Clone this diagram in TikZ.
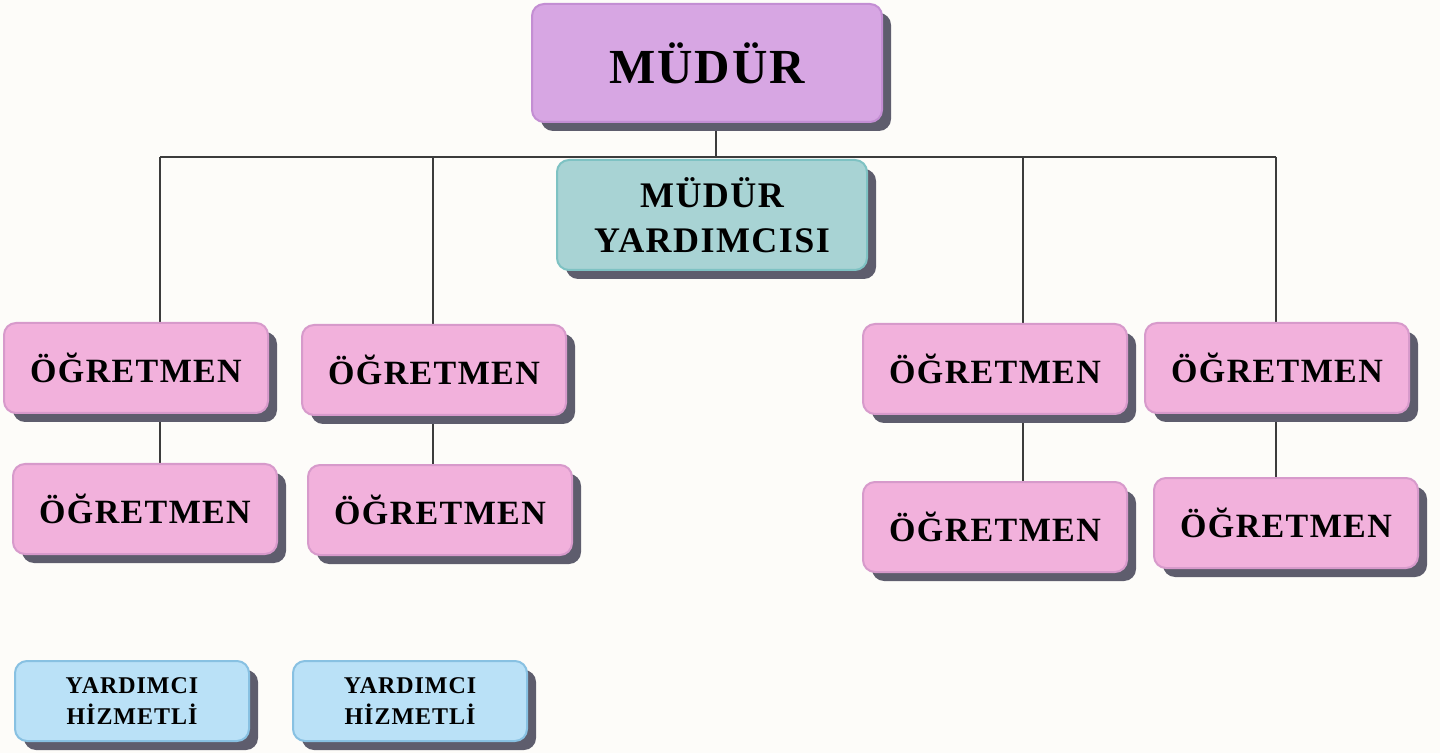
\documentclass[tikz,border=0pt]{standalone}
\usepackage{fontspec}
\setmainfont{Liberation Serif}
\newfontfamily\chartfont{Liberation Serif}[LetterSpace=4]
\usetikzlibrary{shadows}
\definecolor{pageBg}{HTML}{FDFCF9}
\definecolor{shadowGray}{HTML}{5E5D6D}
\definecolor{mudurFill}{HTML}{D7A6E3}
\definecolor{mudurLine}{HTML}{C38ED3}
\definecolor{yardFill}{HTML}{A8D3D4}
\definecolor{yardLine}{HTML}{7EC2C3}
\definecolor{ogrFill}{HTML}{F2B1DC}
\definecolor{ogrLine}{HTML}{D79ACB}
\definecolor{hizFill}{HTML}{BAE1F7}
\definecolor{hizLine}{HTML}{88C1E2}
\definecolor{linkGray}{HTML}{3C3C3C}
\pgfdeclarelayer{back}
\pgfdeclarelayer{lines}
\pgfsetlayers{back,lines,main}
\tikzset{
    objBox/.style={rectangle, rounded corners=6pt, line width=1pt, inner sep=0pt, align=center, text=black,
        font=\chartfont\bfseries,
        drop shadow={shadow xshift=4.5pt, shadow yshift=-4.5pt, opacity=1, fill=shadowGray}},
    objMudur/.style={objBox, fill=mudurFill, draw=mudurLine, minimum width=175pt, minimum height=59pt, font=\chartfont\bfseries\fontsize{24.5}{27}\selectfont},
    objMudurYrd/.style={objBox, fill=yardFill, draw=yardLine, minimum width=155pt, minimum height=55pt, font=\chartfont\bfseries\fontsize{18}{22.5}\selectfont},
    objOgretmen/.style={objBox, fill=ogrFill, draw=ogrLine, minimum width=132pt, minimum height=45pt, font=\chartfont\bfseries\fontsize{17}{20}\selectfont},
    objHizmetli/.style={objBox, fill=hizFill, draw=hizLine, minimum width=117pt, minimum height=40pt, font=\chartfont\bfseries\fontsize{12}{15.5}\selectfont},
    link/.style={draw=linkGray, line width=0.75pt}
}
\begin{document}
\begin{tikzpicture}[x=0.5pt, y=-0.5pt]
    \begin{pgfonlayer}{back}
        \fill[pageBg] (0,0) rectangle (1440,753);
    \end{pgfonlayer}
    \useasboundingbox (0,0) rectangle (1440,753);

    \node (mudur) [objMudur] at (707,63) {MÜDÜR};
    \node (mudurYrd) [objMudurYrd] at (712,215) {MÜDÜR\\YARDIMCISI};

    \node (ogrA1) [objOgretmen] at (136,368) {ÖĞRETMEN};
    \node (ogrB1) [objOgretmen] at (434,370) {ÖĞRETMEN};
    \node (ogrC1) [objOgretmen] at (995,369) {ÖĞRETMEN};
    \node (ogrD1) [objOgretmen] at (1277,368) {ÖĞRETMEN};

    \node (ogrA2) [objOgretmen] at (145,509) {ÖĞRETMEN};
    \node (ogrB2) [objOgretmen] at (440,510) {ÖĞRETMEN};
    \node (ogrC2) [objOgretmen] at (995,527) {ÖĞRETMEN};
    \node (ogrD2) [objOgretmen] at (1286,523) {ÖĞRETMEN};

    \node (hizA) [objHizmetli] at (132,701) {YARDIMCI\\HİZMETLİ};
    \node (hizB) [objHizmetli] at (410,701) {YARDIMCI\\HİZMETLİ};

    \coordinate (busM) at (716,157);
    \coordinate (busA) at (160,157);
    \coordinate (busB) at (433,157);
    \coordinate (busC) at (1023,157);
    \coordinate (busD) at (1276,157);

    \begin{pgfonlayer}{lines}
        \draw[link] (busA) -- (busD);
        \draw[link] (busM) -- (busM |- mudur.south);

        \draw[link] (busA) -- (busA |- ogrA1.north);
        \draw[link] (busB) -- (busB |- ogrB1.north);
        \draw[link] (busC) -- (busC |- ogrC1.north);
        \draw[link] (busD) -- (busD |- ogrD1.north);

        \draw[link] (busA |- ogrA1.south) -- (busA |- ogrA2.north);
        \draw[link] (busB |- ogrB1.south) -- (busB |- ogrB2.north);
        \draw[link] (busC |- ogrC1.south) -- (busC |- ogrC2.north);
        \draw[link] (busD |- ogrD1.south) -- (busD |- ogrD2.north);
    \end{pgfonlayer}
\end{tikzpicture}
\end{document}
